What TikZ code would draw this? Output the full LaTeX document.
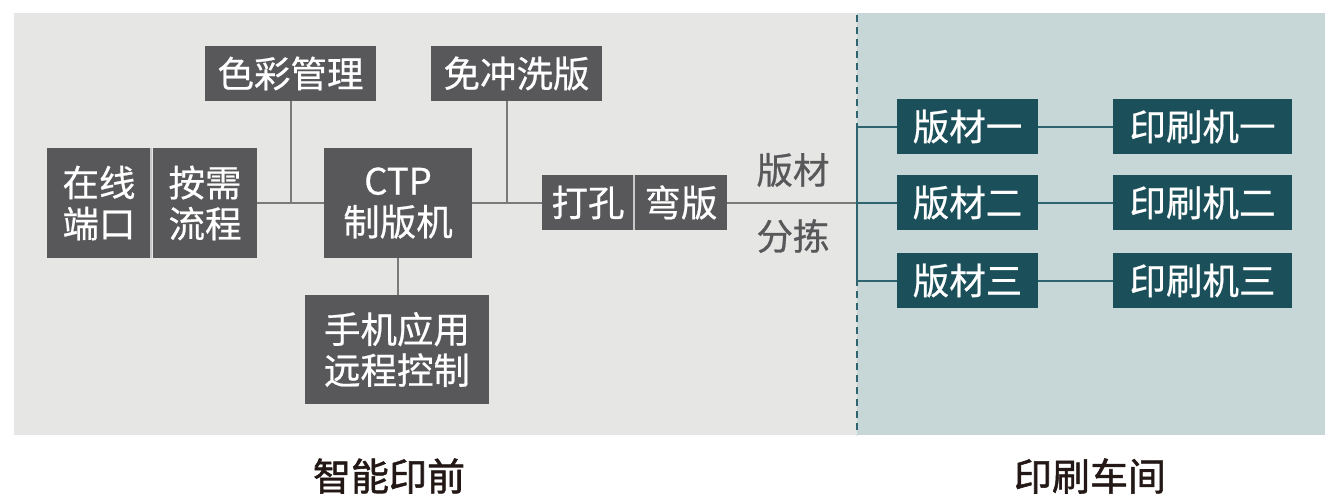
\documentclass[tikz,border=0pt]{standalone}
\usepackage{fontspec}
\setmainfont{Noto Sans CJK SC}
\newfontfamily\medfont[FakeBold=0.6]{Noto Sans CJK SC}
\newfontfamily\titlefont[FakeBold=1.4]{Noto Sans CJK SC}
\definecolor{leftbg}{HTML}{E6E6E5}
\definecolor{rightbg}{HTML}{C7D6D7}
\definecolor{boxgray}{HTML}{58585A}
\definecolor{boxteal}{HTML}{1B4F5A}
\definecolor{linegray}{HTML}{7A7A7A}
\definecolor{lineteal}{HTML}{2D6470}
\definecolor{divgray}{HTML}{C8C8C8}
\definecolor{titlecol}{HTML}{231815}
\begin{document}
\begin{tikzpicture}[x=1pt,y=-1pt,
  box/.style={fill=boxgray,text=white,inner sep=0pt,align=center,
    font=\medfont\fontsize{36.5}{41}\selectfont},
  tbox/.style={fill=boxteal,text=white,inner sep=0pt,align=center,
    minimum width=141pt,minimum height=55pt,font=\medfont\fontsize{36.5}{41}\selectfont},
  pbox/.style={tbox,minimum width=179pt},
  gline/.style={draw=linegray,line width=2pt},
  tline/.style={draw=lineteal,line width=2pt},
  divline/.style={draw=divgray,line width=1.6pt},
  title/.style={text=titlecol,font=\titlefont\fontsize{38}{44}\selectfont},
  sortlbl/.style={text=boxgray,font=\medfont\fontsize{36.5}{41}\selectfont}]
\useasboundingbox (0,0) rectangle (1325,495);
% backgrounds
\fill[leftbg] (14,13) rectangle (857,435);
\fill[rightbg] (857,13) rectangle (1325,435);
\draw[lineteal,line width=2.4pt,dash pattern=on 7pt off 5pt] (857,15) -- (857,435);
% boxes
\node[box,minimum width=171pt,minimum height=55pt] (cm) at (290.5,73.5) {色彩管理};
\node[box,minimum width=171pt,minimum height=55pt] (mc) at (516.5,73.5) {免冲洗版};
\node[box,minimum width=104pt,minimum height=110pt] (zx) at (99,203) {在线\\端口};
\node[box,minimum width=104pt,minimum height=110pt] (ax) at (205,203) {按需\\流程};
\node[box,minimum width=148pt,minimum height=110pt] (ctp) at (398,203) {CTP\\制版机};
\node[box,minimum width=184pt,minimum height=109pt] (sj) at (397,349.5) {手机应用\\远程控制};
\node[box,minimum width=92pt,minimum height=55pt] (dk) at (588,202.5) {打孔};
\node[box,minimum width=92pt,minimum height=55pt] (wb) at (681,202.5) {弯版};
\draw[divline] (zx.north east) -- (zx.south east);
\draw[divline] (dk.north east) -- (dk.south east);
% sorting label
\node[sortlbl] (fj1) at (793,170) {版材};
\node[sortlbl] (fj2) at (793,236) {分拣};
% right boxes
\node[tbox] (bc1) at (967.5,126.5) {版材一};
\node[tbox] (bc2) at (967.5,202.5) {版材二};
\node[tbox] (bc3) at (967.5,280.5) {版材三};
\node[pbox] (ys1) at (1202.5,126.5) {印刷机一};
\node[pbox] (ys2) at (1202.5,202.5) {印刷机二};
\node[pbox] (ys3) at (1202.5,280.5) {印刷机三};
% coordinates
\coordinate (j1) at (290.5,202.5);
\coordinate (j2) at (507,202.5);
\coordinate (mcs) at (507,101);
\coordinate (br1) at (857,126.5);
\coordinate (br2) at (857,202.5);
\coordinate (br3) at (857,280.5);
% gray connectors
\draw[gline] (ax.east |- j1) -- (ctp.west |- j1);
\draw[gline] (cm.south) -- (j1);
\draw[gline] (ctp.east |- j2) -- (dk.west |- j2);
\draw[gline] (mcs) -- (j2);
\draw[gline] (ctp.south) -- (sj.north -| ctp.south);
\draw[gline] (wb.east) -- (br2);
% teal connectors
\draw[tline] (br1) -- (br3);
\draw[tline] (br1) -- (bc1.west);
\draw[tline] (br2) -- (bc2.west);
\draw[tline] (br3) -- (bc3.west);
\draw[tline] (bc1.east) -- (ys1.west);
\draw[tline] (bc2.east) -- (ys2.west);
\draw[tline] (bc3.east) -- (ys3.west);
% titles
\node[title] (t1) at (389,476) {智能印前};
\node[title] (t2) at (1090,476) {印刷车间};
\end{tikzpicture}
\end{document}
